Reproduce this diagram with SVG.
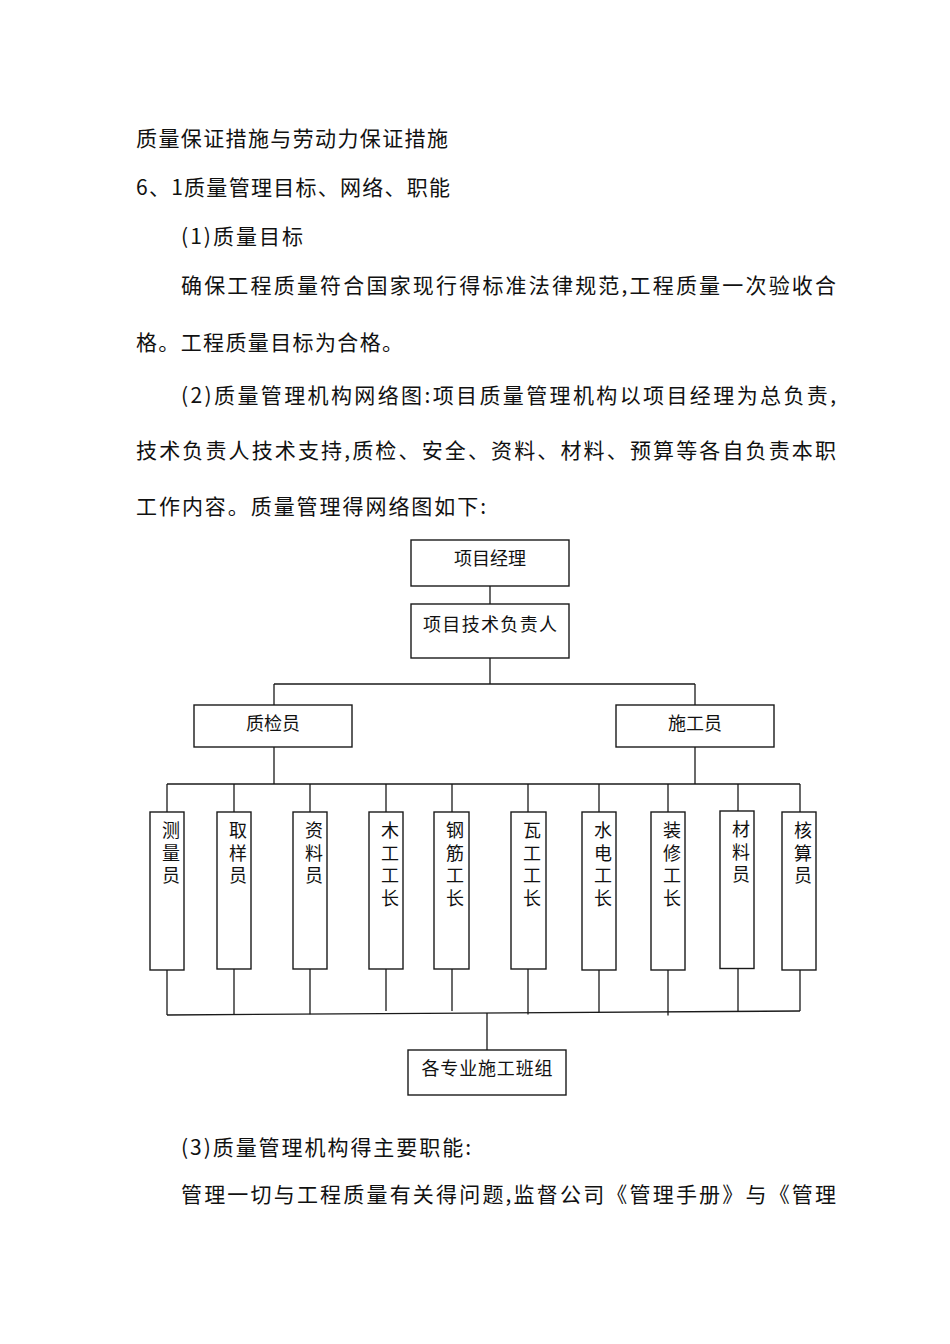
<svg xmlns="http://www.w3.org/2000/svg" width="950" height="1344" viewBox="0 0 950 1344">
<style>
.body{font-family:"Noto Sans CJK SC","Liberation Serif",serif;font-size:21px;fill:#111}
.lbl{font-family:"Noto Sans CJK SC","Liberation Sans",sans-serif;font-size:18px;fill:#111;text-anchor:middle}
.vl{font-family:"Noto Sans CJK SC","Liberation Sans",sans-serif;font-size:18px;fill:#111;writing-mode:vertical-rl;text-anchor:start;letter-spacing:4.7px}
.box{fill:#fff;stroke:#1a1a1a;stroke-width:1.4}
.ln{stroke:#1a1a1a;stroke-width:1.3;fill:none}
</style>
<rect width="950" height="1344" fill="#fff"/>
<g id="text-top">
<text class="body" x="136" y="146" textLength="312" lengthAdjust="spacing">质量保证措施与劳动力保证措施</text>
<text class="body" x="136" y="195" textLength="314" lengthAdjust="spacing">6、1质量管理目标、网络、职能</text>
<text class="body" x="181" y="244" textLength="122" lengthAdjust="spacing">(1)质量目标</text>
<text class="body" x="181" y="293" textLength="655" lengthAdjust="spacing">确保工程质量符合国家现行得标准法律规范,工程质量一次验收合</text>
<text class="body" x="136" y="350" textLength="267" lengthAdjust="spacing">格。工程质量目标为合格。</text>
<text class="body" x="181" y="403" textLength="655" lengthAdjust="spacing">(2)质量管理机构网络图:项目质量管理机构以项目经理为总负责,</text>
<text class="body" x="136" y="458" textLength="700" lengthAdjust="spacing">技术负责人技术支持,质检、安全、资料、材料、预算等各自负责本职</text>
<text class="body" x="136" y="514" textLength="350" lengthAdjust="spacing">工作内容。质量管理得网络图如下:</text>
</g>
<g id="connectors">
<line class="ln" x1="490" y1="586" x2="490" y2="604"/>
<line class="ln" x1="490" y1="658" x2="490" y2="684"/>
<line class="ln" x1="274" y1="684" x2="695" y2="684"/>
<line class="ln" x1="274" y1="684" x2="274" y2="705"/>
<line class="ln" x1="695" y1="684" x2="695" y2="705"/>
<line class="ln" x1="274" y1="747" x2="274" y2="784"/>
<line class="ln" x1="695" y1="747" x2="695" y2="784"/>
<line class="ln" x1="167" y1="784" x2="800" y2="784"/>
<line class="ln" x1="167" y1="784" x2="167" y2="812"/>
<line class="ln" x1="234" y1="784" x2="234" y2="812"/>
<line class="ln" x1="310" y1="784" x2="310" y2="812"/>
<line class="ln" x1="386" y1="784" x2="386" y2="812"/>
<line class="ln" x1="452" y1="784" x2="452" y2="812"/>
<line class="ln" x1="528" y1="784" x2="528" y2="812"/>
<line class="ln" x1="599" y1="784" x2="599" y2="812"/>
<line class="ln" x1="668" y1="784" x2="668" y2="812"/>
<line class="ln" x1="738" y1="784" x2="738" y2="811"/>
<line class="ln" x1="800" y1="784" x2="800" y2="812"/>
<line class="ln" x1="167" y1="1015" x2="800" y2="1011"/>
<line class="ln" x1="167" y1="970" x2="167" y2="1015"/>
<line class="ln" x1="234" y1="969" x2="234" y2="1014.6"/>
<line class="ln" x1="310" y1="969" x2="310" y2="1014.2"/>
<line class="ln" x1="386" y1="969" x2="386" y2="1011"/>
<line class="ln" x1="452" y1="969" x2="452" y2="1011"/>
<line class="ln" x1="528" y1="969" x2="528" y2="1014.5"/>
<line class="ln" x1="599" y1="970" x2="599" y2="1012.3"/>
<line class="ln" x1="668" y1="970" x2="668" y2="1015.5"/>
<line class="ln" x1="738" y1="968.5" x2="738" y2="1011.4"/>
<line class="ln" x1="800" y1="970" x2="800" y2="1011"/>
<line class="ln" x1="487" y1="1013" x2="487" y2="1050"/>
</g>
<g id="n-manager">
<rect class="box" x="411" y="540" width="158" height="46"/>
<text class="lbl" x="490" y="565">项目经理</text>
</g>
<g id="n-tech">
<rect class="box" x="411" y="604" width="158" height="54"/>
<text class="lbl" x="490" y="631" textLength="134" lengthAdjust="spacing">项目技术负责人</text>
</g>
<g id="n-qc">
<rect class="box" x="194" y="705" width="158" height="42"/>
<text class="lbl" x="273" y="730">质检员</text>
</g>
<g id="n-const">
<rect class="box" x="616" y="705" width="158" height="42"/>
<text class="lbl" x="695" y="730">施工员</text>
</g>
<g id="n-1">
<rect class="box" x="150" y="812" width="34" height="158"/>
<text class="vl" x="171" y="821">测量员</text>
</g>
<g id="n-2">
<rect class="box" x="217" y="812" width="34" height="157"/>
<text class="vl" x="238" y="821">取样员</text>
</g>
<g id="n-3">
<rect class="box" x="293" y="812" width="34" height="157"/>
<text class="vl" x="314" y="821">资料员</text>
</g>
<g id="n-4">
<rect class="box" x="369" y="812" width="34" height="157"/>
<text class="vl" x="390" y="821">木工工长</text>
</g>
<g id="n-5">
<rect class="box" x="434" y="812" width="35" height="157"/>
<text class="vl" x="455" y="821">钢筋工长</text>
</g>
<g id="n-6">
<rect class="box" x="511" y="812" width="35" height="157"/>
<text class="vl" x="532" y="821">瓦工工长</text>
</g>
<g id="n-7">
<rect class="box" x="582" y="812" width="34" height="158"/>
<text class="vl" x="603" y="821">水电工长</text>
</g>
<g id="n-8">
<rect class="box" x="651" y="812" width="34" height="158"/>
<text class="vl" x="672" y="821">装修工长</text>
</g>
<g id="n-9">
<rect class="box" x="720" y="811" width="34" height="157.5"/>
<text class="vl" x="741" y="820">材料员</text>
</g>
<g id="n-10">
<rect class="box" x="782" y="812" width="34" height="158"/>
<text class="vl" x="803" y="821">核算员</text>
</g>
<g id="n-teams">
<rect class="box" x="408" y="1050" width="158" height="45"/>
<text class="lbl" x="487" y="1075" textLength="131" lengthAdjust="spacing">各专业施工班组</text>
</g>
<g id="text-bottom">
<text class="body" x="181" y="1155" textLength="290" lengthAdjust="spacing">(3)质量管理机构得主要职能:</text>
<text class="body" x="181" y="1202" textLength="655" lengthAdjust="spacing">管理一切与工程质量有关得问题,监督公司《管理手册》与《管理</text>
</g>
</svg>
